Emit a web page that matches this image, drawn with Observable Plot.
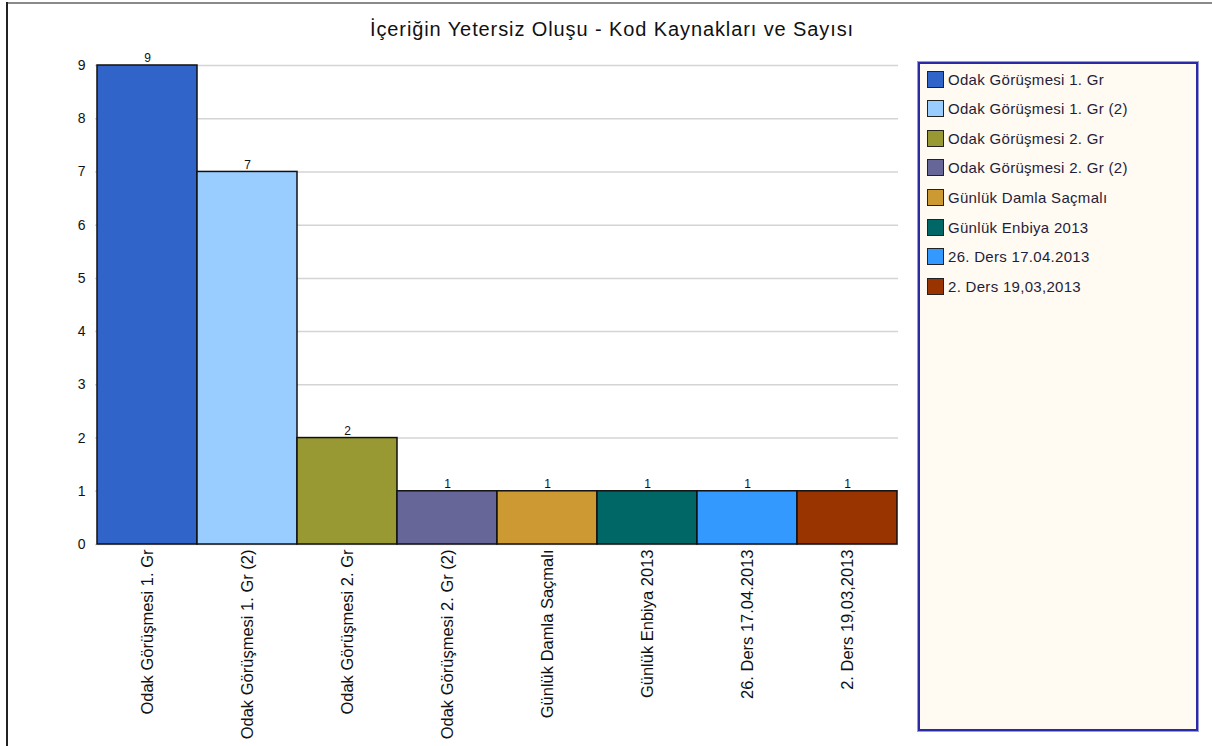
<!DOCTYPE html>
<html>
<head>
<meta charset="utf-8">
<script src="https://cdn.jsdelivr.net/npm/d3@7"></script>
<script src="https://cdn.jsdelivr.net/npm/@observablehq/plot@0.6"></script>
<style>
  html, body { margin: 0; padding: 0; background: #fff; }
  #root { position: relative; width: 1212px; height: 746px; overflow: hidden; font-family: "Liberation Sans", Arial, sans-serif; }
  #frameTop { position: absolute; left: 7px; top: 2px; width: 1205px; height: 0; border-top: 2px solid #8a8a8a; }
  #frameLeft { position: absolute; left: 6px; top: 2px; width: 0; height: 744px; border-left: 2px solid #222; }
  #title { position: absolute; left: 0; top: 18px; width: 1224px; text-align: center; font-size: 20px; letter-spacing: 0.9px; color: #111; }
  #chart { position: absolute; left: 0; top: 0; }
  #legend { position: absolute; left: 918px; top: 62px; width: 276px; height: 665px; background: #fffaf2; border: 2px solid #2a2aa6; box-shadow: 0 0 0 1px #9a9ad6; }
  .item { position: absolute; left: 7px; height: 20px; display: flex; align-items: center; font-size: 15px; letter-spacing: 0.3px; color: #1e1e3a; }
  .sw { width: 17px; height: 17px; border: 1.5px solid #222; margin-right: 4px; box-sizing: border-box; }
</style>
</head>
<body>
<div id="root">
  <div id="frameTop"></div>
  <div id="frameLeft"></div>
  <div id="title">İçeriğin Yetersiz Oluşu - Kod Kaynakları ve Sayısı</div>
  <div id="chart"></div>
  <div id="legend"></div>
</div>
<script>
const categories = [
  "Odak Görüşmesi 1. Gr",
  "Odak Görüşmesi 1. Gr (2)",
  "Odak Görüşmesi 2. Gr",
  "Odak Görüşmesi 2. Gr (2)",
  "Günlük Damla Saçmalı",
  "Günlük Enbiya 2013",
  "26. Ders 17.04.2013",
  "2. Ders 19,03,2013"
];
const values = [9, 7, 2, 1, 1, 1, 1, 1];
const colors = ["#3164c9", "#99ccff", "#999933", "#666699", "#cc9933", "#006666", "#3399ff", "#993300"];
const yTicks = [0, 1, 2, 3, 4, 5, 6, 7, 8, 9];

const data = categories.map((c, i) => ({category: c, value: values[i]}));

const chart = Plot.plot({
  width: 900,
  height: 746,
  marginLeft: 95,
  marginRight: 2,
  marginTop: 65,
  marginBottom: 202,
  style: {fontFamily: '"Liberation Sans", Arial, sans-serif', fontSize: "13px", color: "#111", background: "transparent"},
  x: {domain: categories, padding: 0},
  y: {domain: [0, 9]},
  color: {domain: categories, range: colors},
  marks: [
    Plot.gridY(yTicks, {stroke: "#d4d4d4", strokeOpacity: 1, strokeWidth: 1.5}),
    Plot.barY(data, {x: "category", y: "value", fill: "category", stroke: "#111", strokeWidth: 1.5}),
    Plot.text(data, {x: "category", y: "value", text: d => String(d.value), dy: -7, fontSize: 12, fill: "#111"}),
    Plot.axisY(yTicks, {tickSize: 0, tickPadding: 10, fontSize: 14, label: null, tickFormat: d => String(d)}),
    Plot.axisX({tickSize: 0, tickPadding: 5, tickRotate: -90, textAnchor: "end", fontSize: 16.5, label: null})
  ]
});
document.getElementById("chart").appendChild(chart);

const legend = document.getElementById("legend");
categories.forEach((c, i) => {
  const item = document.createElement("div");
  item.className = "item";
  item.style.top = (5 + i * 29.6) + "px";
  const sw = document.createElement("div");
  sw.className = "sw";
  sw.style.background = colors[i];
  const t = document.createElement("span");
  t.textContent = c;
  item.appendChild(sw);
  item.appendChild(t);
  legend.appendChild(item);
});
</script>
</body>
</html>
